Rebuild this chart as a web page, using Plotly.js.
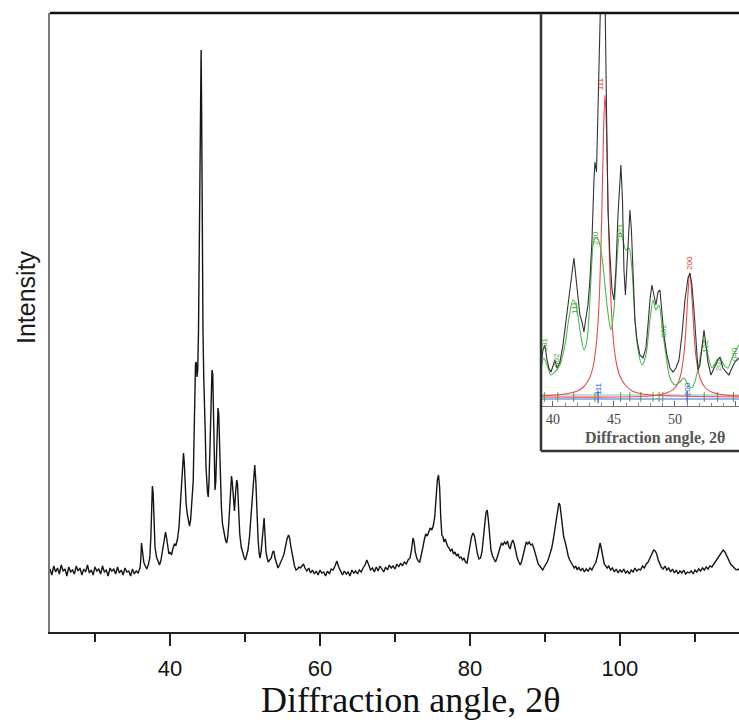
<!DOCTYPE html>
<html>
<head>
<meta charset="utf-8">
<script src="https://cdn.plot.ly/plotly-3.0.1.min.js"></script>
<style>html,body{margin:0;padding:0;background:#fff;}#chart{width:739px;height:724px;}</style>
</head>
<body>
<div id="chart"></div>
<script>
// ---------- Main XRD pattern (2θ, intensity in arbitrary units) ----------
const baseAngleA = [24,24.25,24.5,24.75,25,25.25,25.5,25.75,26,26.25,26.5,26.75,27,27.25,27.5,27.75,28,28.25,28.5,28.75,29,29.25,29.5,29.75,30,30.25,30.5,30.75,31,31.25,31.5,31.75,32,32.25,32.5,32.75,33,33.25,33.5,33.75,34,34.25,34.5,34.75,35,35.25,35.5,35.75];
const baseIntA = [63,57,66,60,64,58,67,61,63,56,65,60,62,58,66,61,64,57,63,60,67,59,62,57,65,61,63,58,66,60,62,56,64,61,63,58,65,59,62,57,64,60,61,56,63,58,61,59];

const peakAngleB = [36.0,36.1,36.2,36.3,36.5,36.7,36.9,37.1,37.3,37.45,37.55,37.65,37.75,37.85,38.0,38.2,38.4,38.6,38.8,39.0,39.2,39.4,39.55,39.7,39.85,40.0,40.2,40.4,40.6,40.8,41.0,41.2,41.4,41.55,41.7,41.8,41.9,42.0,42.15,42.3,42.45,42.6,42.75,42.9,43.0,43.1,43.2,43.3,43.4,43.5,43.6,43.7,43.8,43.9,44.0,44.08,44.15,44.22,44.3,44.4,44.5,44.6,44.7,44.8,44.9,45.0,45.1,45.2,45.35,45.5,45.6,45.7,45.8,45.9,46.0,46.1,46.2,46.3,46.4,46.5,46.6,46.7,46.85,47.0,47.2,47.4,47.55,47.7,47.85,48.0,48.1,48.2,48.3,48.45,48.6,48.75,48.9,49.0,49.15,49.3,49.5,49.7,49.9,50.05,50.2,50.4,50.6,50.8,51.0,51.15,51.3,51.45,51.6,51.75,51.9,52.0,52.15,52.3,52.45,52.55,52.65,52.8,52.95,53.1,53.3,53.5,53.7,53.85,54.0,54.2,54.4,54.6,54.8,55.0,55.2,55.4,55.6,55.8,55.95,56.1,56.25,56.4,56.6,56.8,57.0,57.2,57.4,57.6,57.8,58.0];
const peakIntB = [64,72,89,84,70,66,63,67,74,95,128,146,140,110,85,75,70,67,72,80,92,100,94,84,78,80,77,84,88,87,93,105,130,160,176,179,170,150,128,118,110,106,112,125,140,152,190,240,268,270,255,262,300,380,470,560,582,520,380,300,255,235,200,165,148,140,135,150,190,240,262,258,200,160,142,150,180,210,224,218,185,165,125,108,98,92,89,95,110,130,148,156,150,130,121,140,152,148,120,98,85,78,74,72,76,82,95,115,140,160,167,150,118,92,78,74,80,95,112,114,100,80,74,70,72,74,80,81,74,68,64,67,70,74,78,86,93,97,94,86,80,72,66,62,63,65,64,66,68,64];

const baseAngleC = [58.25,58.5,58.75,59,59.25,59.5,59.75,60,60.25,60.5,60.75,61,61.25,61.5,61.75,62,62.25,62.5,62.75,63,63.25,63.5,63.75,64,64.25,64.5,64.75,65,65.25,65.5,65.75,66,66.25,66.5,66.75,67,67.25,67.5,67.75,68,68.25,68.5,68.75,69,69.25,69.5,69.75,70,70.25,70.5,70.75,71,71.25,71.5,71.75];
const baseIntC = [61,64,59,62,58,61,57,62,59,60,56,61,58,63,62,66,71,65,60,57,61,58,60,56,62,59,61,58,62,60,64,67,72,66,62,64,60,65,61,66,63,60,65,62,67,64,66,63,68,65,69,66,70,68,72];

const peakAngleD = [72.0,72.2,72.4,72.55,72.7,72.9,73.1,73.3,73.5,73.7,73.9,74.1,74.3,74.5,74.7,74.9,75.1,75.3,75.5,75.65,75.8,75.95,76.1,76.25,76.4,76.55,76.7,76.85,77.0,77.2,77.4,77.6,77.8,78.0,78.2,78.4,78.6,78.8,79.0,79.2,79.4,79.6,79.8,80.0,80.2,80.4,80.6,80.8,81.0,81.2,81.4,81.6,81.8,82.0,82.15,82.3,82.45,82.6,82.8,83.0,83.2,83.4,83.6,83.8,84.0,84.2,84.4,84.6,84.8,85.0,85.2,85.35,85.5,85.7,85.9,86.1,86.3,86.5,86.7,86.9,87.1,87.3,87.5,87.7,87.9,88.1,88.3,88.5,88.7,88.9,89.1,89.3,89.5,89.7,89.9,90.1,90.3,90.5,90.7,90.9,91.1,91.3,91.5,91.7,91.85,92.0,92.15,92.3,92.5,92.7,92.9,93.1,93.3,93.5,93.7,93.9,94.1,94.3,94.5,94.75,95.0,95.25,95.5,95.75,96.0,96.25,96.5,96.75,97.0,97.2,97.35,97.5,97.7,97.9,98.1,98.3,98.5,98.75,99.0,99.25,99.5,99.75,100.0];
const peakIntD = [74,82,94,90,80,74,71,70,76,84,92,98,96,100,104,102,106,115,135,152,157,145,115,97,95,90,93,88,86,84,81,83,78,80,76,78,74,75,72,74,70,69,76,86,95,99,96,86,78,73,74,80,92,110,120,122,112,95,82,76,72,70,74,80,86,89,87,90,88,91,85,83,88,92,88,80,74,70,67,71,78,86,90,88,90,87,88,84,78,72,68,66,64,62,65,67,70,74,78,84,92,102,113,124,129,127,118,106,95,90,82,76,72,69,67,64,66,62,65,61,64,60,63,61,64,62,66,69,76,84,89,84,74,68,66,64,66,62,64,60,63,59,62];

const tailAngleE = [100.25,100.5,100.75,101,101.25,101.5,101.75,102,102.25,102.5,102.75,103,103.25,103.5,103.75,104,104.25,104.5,104.7,104.9,105.1,105.3,105.5,105.75,106,106.25,106.5,106.75,107,107.25,107.5,107.75,108,108.25,108.5,108.75,109,109.25,109.5,109.75,110,110.25,110.5,110.75,111,111.25,111.5,111.75,112,112.25,112.5,112.75,113,113.25,113.5,113.75,114,114.25,114.5,114.75,115,115.25,115.5,115.75,116];
const tailIntE = [60,63,59,61,58,62,60,64,61,63,62,66,64,68,70,74,78,82,81,78,72,69,65,63,66,62,64,60,63,59,62,58,61,59,62,58,60,59,61,58,62,60,63,61,64,62,65,63,66,65,68,70,73,76,80,82,80,76,72,68,66,64,62,63,61];

// ---------- Inset: measured, fitted phase, Lorentzian components ----------
const insetAngle = [39.02,39.18,39.34,39.51,39.67,39.84,40.0,40.16,40.33,40.57,40.82,41.07,41.31,41.56,41.72,41.89,42.05,42.21,42.38,42.54,42.7,42.87,43.03,43.2,43.36,43.44,43.57,43.69,43.85,43.93,44.14,44.26,44.39,44.51,44.67,44.84,45.0,45.16,45.33,45.49,45.57,45.7,45.82,45.94,46.07,46.23,46.31,46.43,46.56,46.72,46.89,47.13,47.38,47.62,47.79,47.95,48.11,48.28,48.44,48.61,48.77,48.93,49.1,49.34,49.59,49.84,50.08,50.33,50.57,50.82,51.07,51.23,51.39,51.56,51.72,51.89,52.05,52.21,52.38,52.54,52.7,52.95,53.2,53.44,53.69,53.93,54.18,54.43,54.67,54.92,55.25];
const insetMeasured = [41,56,61,46,38,34,40,46,38,44,61,86,111,138,148,128,106,91,84,74,88,101,126,166,226,244,234,286,376,420,430,420,296,196,151,116,106,136,191,231,241,206,136,111,141,184,196,176,126,86,66,51,48,58,81,106,121,111,101,114,116,94,71,51,38,34,38,46,71,106,128,133,121,96,61,36,41,61,76,61,44,31,38,44,49,38,34,31,38,44,48];

const fitAngle = [39.02,39.26,39.51,39.84,40.16,40.57,40.98,41.31,41.64,41.89,42.21,42.54,42.79,43.03,43.2,43.36,43.61,43.85,44.1,44.34,44.59,44.75,45.0,45.25,45.49,45.74,45.98,46.23,46.48,46.72,46.97,47.3,47.62,47.95,48.2,48.44,48.69,48.93,49.26,49.59,50.0,50.41,50.74,51.07,51.39,51.72,52.05,52.38,52.7,53.03,53.36,53.69,54.02,54.34,54.67,55.0,55.25];
const fitPhase = [36,48,41,31,34,41,61,88,106,101,76,56,66,106,146,166,169,161,141,111,86,76,96,146,174,166,156,158,136,86,56,41,51,86,106,96,101,81,51,28,21,24,28,21,18,28,48,66,51,38,44,48,41,38,48,56,61];

const peak111Angle = [39.02,41.0,42.0,42.5,43.0,43.3,43.6,43.8,44.0,44.15,44.27,44.4,44.55,44.75,45.0,45.3,45.6,46.0,46.5,47.0,48.0,50.0,55.25];
const peak111Int = [10,12,15,19,28,40,68,109,190,276,311,270,185,106,60,37,27,20,15,13,11,10,9];
const peak200Angle = [39.02,48.0,49.0,49.5,50.0,50.4,50.7,50.9,51.05,51.22,51.4,51.55,51.75,52.05,52.5,53.0,54.0,55.25];
const peak200Int = [9,10,12,14,18,28,48,77,109,133,107,75,47,28,18,14,11,10];

const baselineAngle = [39.02,55.25];
const baselineBlue = [7,7];
const baselineGrey = [11,11];
const greenRefl = [39.3,40.4,41.7,43.45,45.55,46.3,47.2,48.2,48.7,49.0,52.4,53.5,54.8];
const blueRefl = [43.7,51.0];
const reflLevel = 9;

const hklText = ["111","200","220","021","201","002","111","002","122","202","040","111","200"];
const hklAngle = [43.88,51.15,43.45,45.5,39.3,40.25,41.72,49.0,52.45,53.55,54.85,43.7,51.0];
const hklLevel = [322,143,168,176,62,46,99,75,60,42,52,17,17];
const hklColor = ["#e03030","#e03030","#3aa63a","#3aa63a","#3aa63a","#3aa63a","#3aa63a","#3aa63a","#3aa63a","#3aa63a","#3aa63a","#2a5fd0","#2a5fd0"];

// ---------- build ----------
const mainAngle = [].concat(baseAngleA, peakAngleB, baseAngleC, peakAngleD, tailAngleE);
const mainInt = [].concat(baseIntA, peakIntB, baseIntC, peakIntD, tailIntE);

const traces = [
  {x: mainAngle, y: mainInt, type: 'scatter', mode: 'lines', line: {color: '#151515', width: 1.4}, hoverinfo: 'skip'},
  {x: baselineAngle, y: baselineGrey, xaxis: 'x2', yaxis: 'y2', mode: 'lines', line: {color: '#8fb8c8', width: 1}},
  {x: baselineAngle, y: baselineBlue, xaxis: 'x2', yaxis: 'y2', mode: 'lines', line: {color: '#3a6fd8', width: 1.2}},
  {x: greenRefl, y: greenRefl.map(() => reflLevel), xaxis: 'x2', yaxis: 'y2', mode: 'markers', marker: {symbol: 'line-ns', size: 7, line: {color: '#3aa63a', width: 1}}},
  {x: blueRefl, y: blueRefl.map(() => reflLevel), xaxis: 'x2', yaxis: 'y2', mode: 'markers', marker: {symbol: 'line-ns', size: 9, line: {color: '#2a5fd0', width: 1.2}}},
  {x: peak111Angle, y: peak111Int, xaxis: 'x2', yaxis: 'y2', mode: 'lines', line: {color: '#e84a4a', width: 1.1, shape: 'spline'}},
  {x: peak200Angle, y: peak200Int, xaxis: 'x2', yaxis: 'y2', mode: 'lines', line: {color: '#e84a4a', width: 1.1, shape: 'spline'}},
  {x: fitAngle, y: fitPhase, xaxis: 'x2', yaxis: 'y2', mode: 'lines', line: {color: '#4cb84c', width: 1.1, shape: 'spline', smoothing: 0.8}},
  {x: insetAngle, y: insetMeasured, xaxis: 'x2', yaxis: 'y2', mode: 'lines', line: {color: '#333333', width: 1.1}}
];

// pixel helpers for paper coordinates (plot area: x 50..739, y 13..632)
const PX = p => (p - 50) / 689;
const PY = p => (632 - p) / 619;

const annotations = [
  {text: 'Diffraction angle, 2θ', xref: 'paper', yref: 'paper', x: PX(410), y: PY(700), xanchor: 'center', yanchor: 'middle', showarrow: false,
   font: {family: 'Liberation Serif, Times New Roman, serif', size: 36, color: '#111'}},
  {text: 'Intensity', xref: 'paper', yref: 'paper', x: PX(26), y: PY(297), xanchor: 'center', yanchor: 'middle', textangle: -90, showarrow: false,
   font: {family: 'Liberation Sans, Arial, sans-serif', size: 25, color: '#1a1a1a'}},
  {text: '<b>Diffraction angle, 2θ</b>', xref: 'paper', yref: 'paper', x: PX(655), y: PY(438), xanchor: 'center', yanchor: 'middle', showarrow: false,
   font: {family: 'Liberation Serif, Times New Roman, serif', size: 16, color: '#555'}}
];
hklText.forEach((t, i) => annotations.push({
  text: t, xref: 'x2', yref: 'y2', x: hklAngle[i], y: hklLevel[i], textangle: -90, showarrow: false,
  xanchor: 'center', yanchor: 'middle', font: {family: 'Liberation Sans, Arial, sans-serif', size: 8, color: hklColor[i]}
}));

const layout = {
  width: 739, height: 724,
  margin: {l: 50, r: 0, t: 13, b: 92},
  paper_bgcolor: '#fff', plot_bgcolor: '#fff',
  showlegend: false,
  xaxis: {
    range: [24, 115.87], showgrid: false, zeroline: false,
    showline: true, linecolor: '#222', linewidth: 2,
    ticks: 'outside', tickvals: [40, 60, 80, 100], ticklen: 12, tickwidth: 2, tickcolor: '#222',
    ticklabelstandoff: 4,
    minor: {tickvals: [30, 50, 70, 90, 110], ticks: 'outside', ticklen: 8, tickwidth: 2, tickcolor: '#222'},
    tickfont: {family: 'Liberation Sans, Arial, sans-serif', size: 22, color: '#111'}
  },
  yaxis: {
    range: [0, 619], showgrid: false, zeroline: false, showticklabels: false, ticks: '',
    showline: true, linecolor: '#7a7a7a', linewidth: 2
  },
  xaxis2: {
    domain: [PX(541), 1], anchor: 'y2', range: [39.02, 55.25], showgrid: false, zeroline: false,
    showline: true, linecolor: '#777', linewidth: 1,
    ticks: 'inside', tickvals: [40, 45, 50, 55], ticklen: 5, tickwidth: 1, tickcolor: '#666',
    minor: {dtick: 1, ticks: 'inside', ticklen: 3, tickcolor: '#888'},
    tickfont: {family: 'Liberation Serif, Times New Roman, serif', size: 14, color: '#444'}
  },
  yaxis2: {
    domain: [PY(406), 1], anchor: 'x2', range: [0, 393], visible: false
  },
  shapes: [
    {type: 'line', xref: 'paper', yref: 'paper', x0: 0, x1: 1, y0: 1, y1: 1, line: {color: '#111', width: 2.5}},
    {type: 'line', xref: 'paper', yref: 'paper', x0: PX(541), x1: PX(541), y0: PY(451), y1: 1, line: {color: '#333', width: 2.5}},
    {type: 'line', xref: 'paper', yref: 'paper', x0: PX(541), x1: 1.01, y0: PY(451), y1: PY(451), line: {color: '#333', width: 2.5}}
  ],
  annotations: annotations
};

Plotly.newPlot('chart', traces, layout, {staticPlot: true, displayModeBar: false});
</script>
</body>
</html>
